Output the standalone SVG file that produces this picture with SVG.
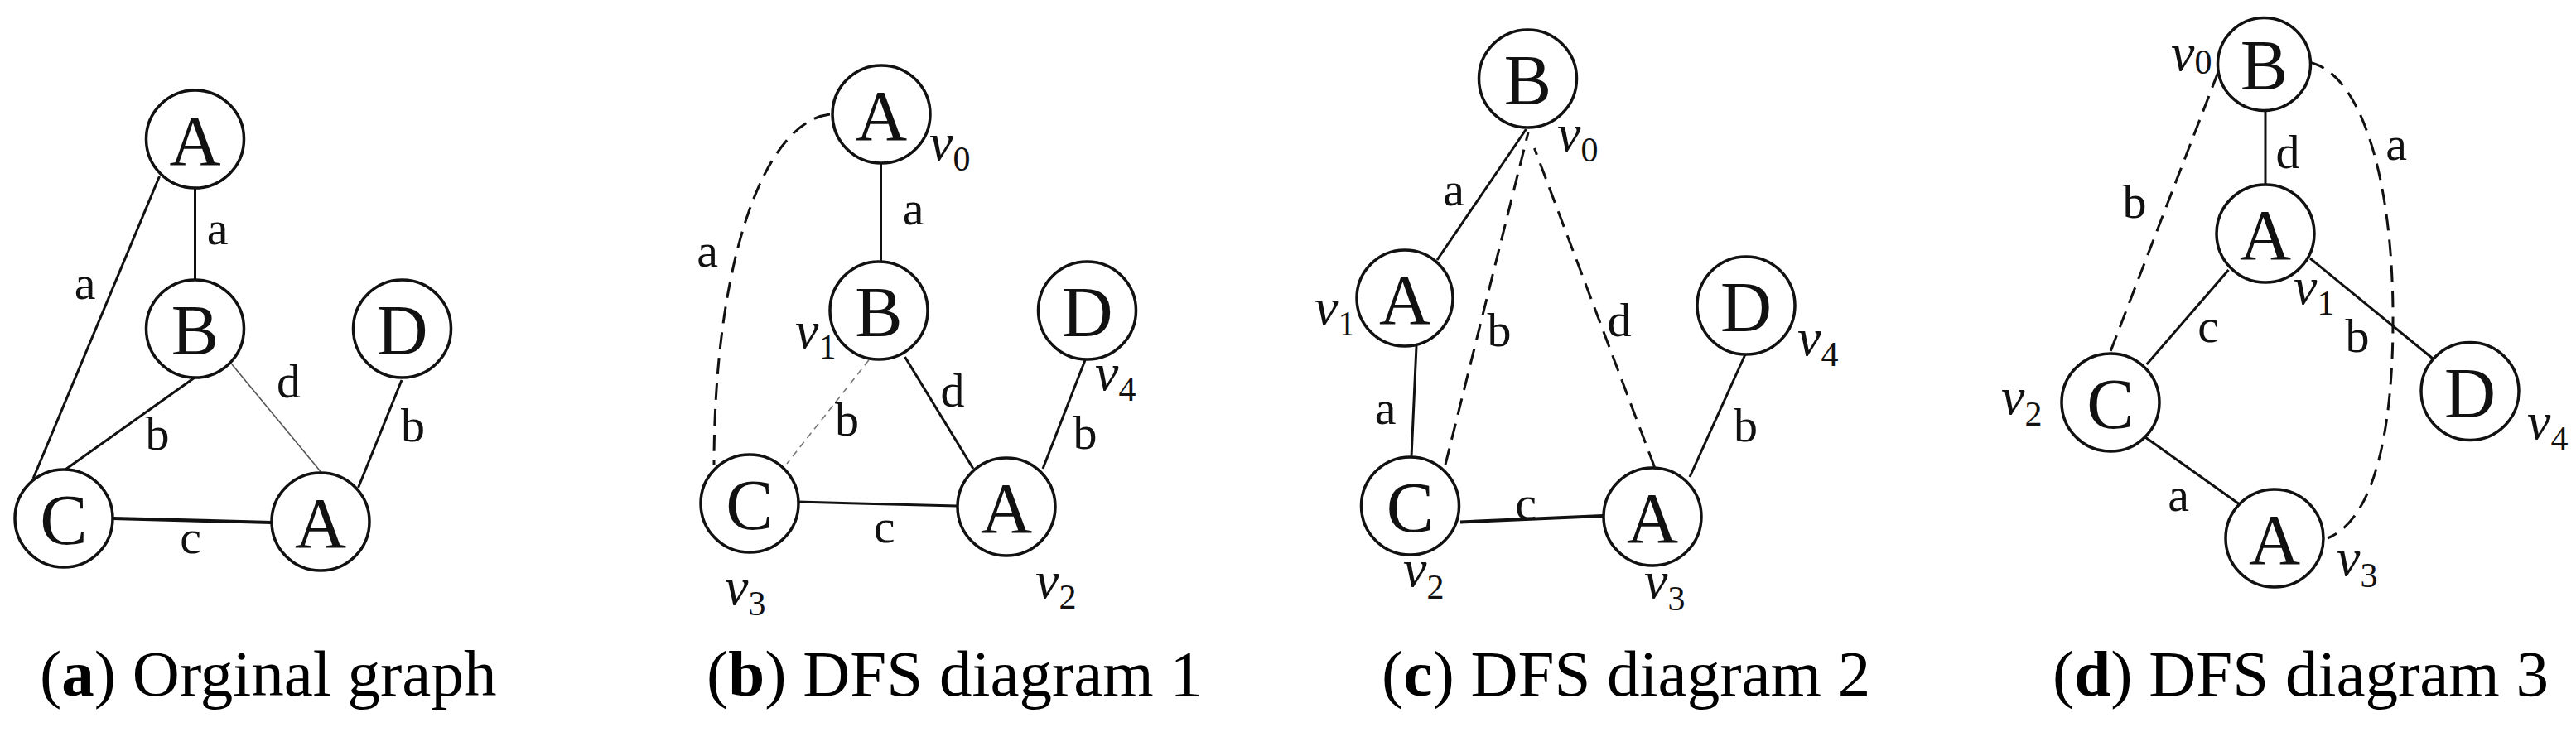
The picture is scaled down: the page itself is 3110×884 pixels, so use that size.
<svg xmlns="http://www.w3.org/2000/svg" width="3110" height="884" viewBox="0 0 3110 884">
<style>
.n{fill:#fff;stroke:#111;stroke-width:3.5}
.nl{font-family:"Liberation Serif","Times New Roman",serif;font-size:86px;text-anchor:middle;fill:#111}
.e{stroke:#111;stroke-width:3;fill:none}
.thick{stroke:#111;stroke-width:4;fill:none}
.thin{stroke:#555;stroke-width:1.6;fill:none}
.dash{stroke:#111;stroke-width:3;fill:none;stroke-dasharray:20 11}
.tdash{stroke:#777;stroke-width:1.6;fill:none;stroke-dasharray:8 6}
.el{font-family:"Liberation Serif","Times New Roman",serif;font-size:58px;text-anchor:middle;fill:#111}
.v{font-family:"Liberation Serif","Times New Roman",serif;font-size:64px;font-style:italic;fill:#111}
.s{font-style:normal;font-size:42px}
.cap{font-family:"Liberation Serif","Times New Roman",serif;font-size:79px;fill:#000}
</style>
<rect width="3110" height="884" fill="#fff"/>
<g id="connectors">
<!-- panel a -->
<line class="e" x1="235.5" y1="227" x2="235.5" y2="338"/>
<line class="e" x1="192.5" y1="213" x2="40" y2="578"/>
<line class="e" x1="235" y1="456" x2="77.5" y2="568"/>
<line class="thin" x1="280" y1="440" x2="387.5" y2="570"/>
<line class="e" x1="485" y1="459" x2="432.5" y2="589"/>
<line class="thick" x1="136" y1="626" x2="328" y2="631"/>
<!-- panel b -->
<line class="e" x1="1063.5" y1="196" x2="1063.5" y2="317"/>
<path class="dash" d="M1002,138 C920,148 862,322 862,562"/>
<line class="tdash" x1="1057.5" y1="424" x2="950" y2="560"/>
<line class="e" x1="1092.5" y1="431" x2="1175" y2="566"/>
<line class="e" x1="1310" y1="435" x2="1259" y2="566"/>
<line class="e" x1="962.5" y1="606" x2="1155" y2="611"/>
<!-- panel c -->
<line class="e" x1="1842.5" y1="156" x2="1735" y2="314"/>
<line class="dash" x1="1745" y1="561" x2="1845" y2="160"/>
<line class="dash" x1="1997.5" y1="564" x2="1852.5" y2="179"/>
<line class="e" x1="1710" y1="418" x2="1704" y2="552"/>
<line class="e" x1="2107.5" y1="427" x2="2040" y2="576"/>
<line class="thick" x1="1763" y1="630.5" x2="1935" y2="623"/>
<!-- panel d -->
<line class="e" x1="2735" y1="134" x2="2735" y2="223"/>
<line class="dash" x1="2678" y1="87" x2="2547" y2="427"/>
<path class="dash" d="M2787,75 C2850,87 2888,213 2889,377 C2890,540 2860,630 2810,650"/>
<line class="e" x1="2690.5" y1="326" x2="2591.7" y2="440"/>
<line class="e" x1="2789" y1="312" x2="2942" y2="437"/>
<line class="e" x1="2590" y1="528" x2="2703" y2="608.5"/>
</g>
<g id="edge-labels">
<text class="el" x="262.5" y="295">a</text>
<text class="el" x="102.5" y="361">a</text>
<text class="el" x="348.5" y="480">d</text>
<text class="el" x="190" y="543">b</text>
<text class="el" x="498.5" y="533">b</text>
<text class="el" x="230" y="668">c</text>
<text class="el" x="1102.5" y="271">a</text>
<text class="el" x="854" y="322">a</text>
<text class="el" x="1150" y="491">d</text>
<text class="el" x="1022.5" y="526">b</text>
<text class="el" x="1310" y="542">b</text>
<text class="el" x="1067.5" y="655">c</text>
<text class="el" x="1755" y="248">a</text>
<text class="el" x="1810" y="418">b</text>
<text class="el" x="1955" y="406">d</text>
<text class="el" x="1672.5" y="512">a</text>
<text class="el" x="2107.5" y="533">b</text>
<text class="el" x="1842" y="627">c</text>
<text class="el" x="2762" y="203">d</text>
<text class="el" x="2893" y="193">a</text>
<text class="el" x="2577" y="263">b</text>
<text class="el" x="2666" y="413">c</text>
<text class="el" x="2846" y="425">b</text>
<text class="el" x="2630" y="617">a</text>
</g>
<!-- panel a nodes -->
<g id="a-A1"><circle class="n" cx="235.5" cy="168" r="59"/><text class="nl" x="235.5" y="199">A</text></g>
<g id="a-B"><circle class="n" cx="235.5" cy="397" r="59"/><text class="nl" x="235.5" y="428">B</text></g>
<g id="a-D"><circle class="n" cx="485.5" cy="397" r="59"/><text class="nl" x="485.5" y="428">D</text></g>
<g id="a-C"><circle class="n" cx="77" cy="626" r="59"/><text class="nl" x="77" y="657">C</text></g>
<g id="a-A2"><circle class="n" cx="387" cy="630" r="59"/><text class="nl" x="387" y="661">A</text></g>
<!-- panel b nodes -->
<g id="b-A1"><circle class="n" cx="1064" cy="138" r="59"/><text class="nl" x="1064" y="169">A</text><text class="v" x="1122" y="193">v<tspan class="s" dy="13">0</tspan></text></g>
<g id="b-B"><circle class="n" cx="1061" cy="375" r="59"/><text class="nl" x="1061" y="406">B</text><text class="v" x="960" y="420">v<tspan class="s" dy="13">1</tspan></text></g>
<g id="b-D"><circle class="n" cx="1312.5" cy="375" r="59"/><text class="nl" x="1312.5" y="406">D</text><text class="v" x="1322" y="471">v<tspan class="s" dy="13">4</tspan></text></g>
<g id="b-C"><circle class="n" cx="905" cy="608" r="59"/><text class="nl" x="905" y="639">C</text><text class="v" x="875" y="730">v<tspan class="s" dy="13">3</tspan></text></g>
<g id="b-A2"><circle class="n" cx="1215" cy="612" r="59"/><text class="nl" x="1215" y="643">A</text><text class="v" x="1250" y="722">v<tspan class="s" dy="13">2</tspan></text></g>
<!-- panel c nodes -->
<g id="c-B"><circle class="n" cx="1844.5" cy="95" r="59"/><text class="nl" x="1844.5" y="126">B</text><text class="v" x="1880" y="182">v<tspan class="s" dy="13">0</tspan></text></g>
<g id="c-A1"><circle class="n" cx="1696" cy="360" r="58"/><text class="nl" x="1696" y="391">A</text><text class="v" x="1587" y="392">v<tspan class="s" dy="13">1</tspan></text></g>
<g id="c-D"><circle class="n" cx="2108" cy="369" r="59"/><text class="nl" x="2108" y="400">D</text><text class="v" x="2170" y="429">v<tspan class="s" dy="13">4</tspan></text></g>
<g id="c-C"><circle class="n" cx="1702.5" cy="611" r="59"/><text class="nl" x="1702.5" y="642">C</text><text class="v" x="1694" y="708">v<tspan class="s" dy="15">2</tspan></text></g>
<g id="c-A2"><circle class="n" cx="1995" cy="624" r="59"/><text class="nl" x="1995" y="655">A</text><text class="v" x="1985" y="722">v<tspan class="s" dy="15">3</tspan></text></g>
<!-- panel d nodes -->
<g id="d-B"><circle class="n" cx="2733.5" cy="77.5" r="56"/><text class="nl" x="2733.5" y="108">B</text><text class="v" x="2621" y="85">v<tspan class="s" dy="4">0</tspan></text></g>
<g id="d-A1"><circle class="n" cx="2735" cy="282" r="59"/><text class="nl" x="2735" y="313">A</text><text class="v" x="2769" y="367">v<tspan class="s" dy="13">1</tspan></text></g>
<g id="d-C"><circle class="n" cx="2548" cy="486" r="59"/><text class="nl" x="2548" y="517">C</text><text class="v" x="2416" y="500">v<tspan class="s" dy="14">2</tspan></text></g>
<g id="d-D"><circle class="n" cx="2982" cy="472.5" r="59"/><text class="nl" x="2982" y="503.5">D</text><text class="v" x="3051" y="530">v<tspan class="s" dy="14">4</tspan></text></g>
<g id="d-A2"><circle class="n" cx="2746" cy="650" r="59"/><text class="nl" x="2746" y="681">A</text><text class="v" x="2821" y="695">v<tspan class="s" dy="14">3</tspan></text></g>
<g id="captions">
<text class="cap" x="48" y="840">(<tspan font-weight="bold">a</tspan>) Orginal graph</text>
<text class="cap" x="853" y="840">(<tspan font-weight="bold">b</tspan>) DFS diagram 1</text>
<text class="cap" x="1668" y="840">(<tspan font-weight="bold">c</tspan>) DFS diagram 2</text>
<text class="cap" x="2478" y="840">(<tspan font-weight="bold">d</tspan>) DFS diagram 3</text>
</g>
</svg>
